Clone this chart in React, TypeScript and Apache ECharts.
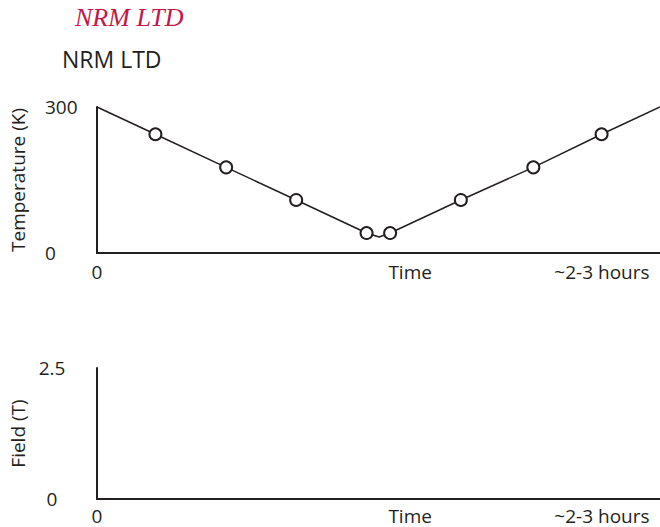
import React, { useEffect, useRef } from "react";
import * as echarts from "echarts";

// Temperature profile (time in arbitrary minutes, 0..160 spans the axis)
const tempTimes = [0, 16.6, 36.7, 56.6, 76.6, 80.2, 83.3, 103.4, 124, 143.4, 160];
const temps = [300, 244, 176, 109, 41, 33, 41, 109, 176, 244, 300];
const tempMarked = [false, true, true, true, true, false, true, true, true, true, false];

const xTickValues = [0, 89, 143.5];
const xTickLabels = ["0", "Time", "~2-3 hours"];

const tempRange = [0, 300];
const fieldRange = [0, 2.5];

const INK = "#231f20";
const FONT = "'Open Sans', 'Noto Sans', sans-serif";

export default function App() {
  const ref = useRef<HTMLDivElement>(null);
  useEffect(() => {
    if (!ref.current) return;
    const chart = echarts.init(ref.current, null, { renderer: "svg" });
    const xLabelMap: Record<string, string> = {};
    xTickValues.forEach((v, i) => (xLabelMap[String(v)] = xTickLabels[i]));

    const xAxisBase = (gridIndex: number, margin: number) => ({
      type: "value" as const,
      gridIndex,
      min: 0,
      max: 160,
      axisLine: { show: true, lineStyle: { color: INK, width: 2 } },
      axisTick: { show: false },
      splitLine: { show: false },
      axisLabel: {
        customValues: xTickValues,
        formatter: (v: number) => xLabelMap[String(v)] ?? "",
        color: INK,
        fontFamily: FONT,
        fontSize: 19,
        margin,
      },
    });

    const yAxisBase = (
      gridIndex: number,
      range: number[],
      name: string,
      align: string,
      margin: number
    ) => ({
      type: "value" as const,
      gridIndex,
      min: range[0],
      max: range[1],
      interval: range[1] - range[0],
      name,
      nameLocation: "middle" as const,
      nameRotate: 90,
      nameGap: 70,
      nameTextStyle: { color: INK, fontFamily: FONT, fontSize: 19 },
      axisLine: { show: true, lineStyle: { color: INK, width: 2 } },
      axisTick: { show: false },
      splitLine: { show: false },
      axisLabel: {
        color: INK,
        fontFamily: FONT,
        fontSize: 19,
        align,
        margin,
      },
    });

    chart.setOption({
      animation: false,
      backgroundColor: "#ffffff",
      title: [
        {
          text: "NRM LTD",
          left: 75,
          top: 4,
          padding: 0,
          textStyle: {
            fontFamily: "'Liberation Serif', serif",
            fontStyle: "italic",
            fontWeight: "normal",
            fontSize: 26,
            color: "#c1174a",
          },
        },
        {
          text: "NRM LTD",
          left: 62,
          top: 47,
          padding: 0,
          textStyle: {
            fontFamily: FONT,
            fontWeight: "normal",
            fontSize: 23,
            color: INK,
          },
        },
      ],
      grid: [
        { left: 97, right: 0, top: 107, height: 146 },
        { left: 97, right: 0, top: 368, height: 131 },
      ],
      xAxis: [xAxisBase(0, 9), xAxisBase(1, 7)],
      yAxis: [
        yAxisBase(0, tempRange, "Temperature (K)", "left", 52),
        yAxisBase(1, fieldRange, "Field (T)", "center", 45),
      ],
      series: [
        {
          type: "line",
          xAxisIndex: 0,
          yAxisIndex: 0,
          data: tempTimes.map((t, i) => ({
            value: [t, temps[i]],
            symbol: tempMarked[i] ? "emptyCircle" : "none",
          })),
          symbolSize: 12,
          showSymbol: true,
          lineStyle: { color: INK, width: 1.5 },
          itemStyle: { color: INK, borderColor: INK, borderWidth: 1.5 },
          clip: false,
        },
        {
          type: "line",
          xAxisIndex: 1,
          yAxisIndex: 1,
          data: [],
        },
      ],
    });
    return () => chart.dispose();
  }, []);
  return (
    <div
      ref={ref}
      style={{ position: "absolute", left: 0, top: 0, width: 660, height: 527 }}
    />
  );
}
